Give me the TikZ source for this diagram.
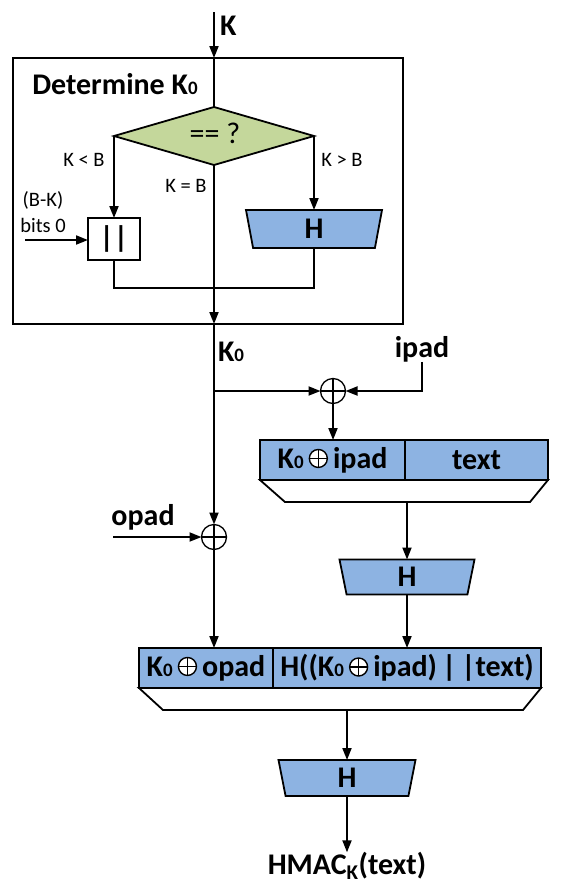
\documentclass[tikz,border=0pt]{standalone}
\usepackage{fontspec}
\setmainfont{Carlito}
\usetikzlibrary{arrows.meta,shapes.geometric}
\definecolor{hblue}{HTML}{8DB3E2}
\definecolor{dgreen}{HTML}{C4D79B}
\newcommand\zsub{{\fontsize{19}{19}\selectfont 0}}
\newcommand\xo{\,\begin{pgfpicture}\pgfsetlinewidth{1.4pt}\pgfsetstrokecolor{black}\pgfsetfillcolor{white}\pgfpathcircle{\pgfpoint{0pt}{9pt}}{9pt}\pgfusepath{fill,stroke}\pgfpathmoveto{\pgfpoint{-9pt}{9pt}}\pgfpathlineto{\pgfpoint{9pt}{9pt}}\pgfpathmoveto{\pgfpoint{0pt}{0pt}}\pgfpathlineto{\pgfpoint{0pt}{18pt}}\pgfusepath{stroke}\end{pgfpicture}\,}
\begin{document}
\begin{tikzpicture}[x=1pt,y=-1pt,
  every node/.style={inner sep=0pt, outer sep=0pt},
  ln/.style={line width=1.8pt},
  arr/.style={line width=1.8pt,-{Triangle[length=12pt,width=9pt]}},
  big/.style={font=\fontsize{30}{32}\selectfont\bfseries},
  sml/.style={font=\fontsize{20.5}{26}\selectfont},
  cell/.style={draw, line width=1.8pt, fill=hblue, minimum height=40pt, big},
  hbox/.style={trapezium, shape border rotate=180, trapezium angle=70, trapezium stretches body, draw, line width=1.8pt, fill=hblue, big},
  xor/.style={circle, draw, line width=1.3pt, minimum size=25pt, path picture={\draw[line width=1.3pt] (path picture bounding box.north) -- (path picture bounding box.south) (path picture bounding box.west) -- (path picture bounding box.east);}}
]
\useasboundingbox (0,0) rectangle (561,894);

% top input
\coordinate (kin) at (214,12);
\node[big, anchor=west] (K) at (220,26) {K};
\node[draw, line width=1.8pt, minimum width=390pt, minimum height=266pt] (outer) at (208,191) {};
\coordinate (ktop) at (214,58);
\draw[arr] (kin) -- (ktop);
\node[big] (det) at (115,84) {Determine K\zsub};

\node[diamond, draw, line width=1.8pt, fill=dgreen, minimum width=200pt, minimum height=58pt] (dia) at (214,136) {};
\node[font=\fontsize{30}{30}\selectfont] (eq) at (215,133) {== ?};
\draw[ln] (ktop) -- (dia.north);

\node[draw, line width=1.8pt, fill=white, minimum width=52pt, minimum height=42pt, big] (cat) at (114,239) {||};
\node[hbox, minimum width=136pt, minimum height=38pt] (h1) at (314,229) {H};

\draw[arr] (dia.west) -- (cat.north);
\draw[arr] (dia.east) -- (h1);
\node[sml] (klb) at (84,160) {K < B};
\node[sml] (kgb) at (342,160) {K > B};
\node[sml] (keb) at (186,186) {K = B};
\node[sml, align=center] (bk) at (43,212) {(B-K)\\bits 0};
\coordinate (bkin) at (25,240);
\draw[arr] (bkin) -- (cat.west |- bkin);

\coordinate (jn) at (214,288);
\draw[ln] (cat) |- (jn) -| (h1);
\coordinate (kout) at (214,324);
\draw[arr] (dia.south) -- (kout);

% K0 and ipad
\node[big, anchor=west] (k0) at (218,352) {K\zsub};
\coordinate (j2) at (214,391);
\node[xor] (xo1) at (333,391) {};
\node[big] (ipad) at (422,349) {ipad};
\draw[arr] (j2) -- (xo1);
\draw[arr] (ipad) |- (xo1);

% box 1
\node[cell, minimum width=145pt] (b1l) at (332.5,460) {K\zsub\xo ipad};
\node[cell, minimum width=143pt] (b1r) at (476.5,460) {text};
\coordinate (t1a) at (285,502);
\coordinate (t1b) at (530,502);
\coordinate (t1m) at (407,502);
\draw[ln, fill=white] (b1l.south west) -- (t1a) -- (t1b) -- (b1r.south east) -- cycle;
\draw[arr] (xo1) -- (xo1 |- b1l.north);

\node[hbox, minimum width=135pt, minimum height=35pt] (h2) at (407,577) {H};
\draw[arr] (t1m) -- (h2);

% opad
\node[xor] (xo2) at (214,537) {};
\node[big] (opad) at (143,517) {opad};
\coordinate (opin) at (113,537);
\draw[arr] (kout) -- (xo2);
\draw[arr] (opin) -- (xo2);

% box 2
\node[cell, minimum width=134pt] (b2l) at (206,668) {K\zsub\xo opad};
\node[cell, minimum width=268pt] (b2r) at (407,668) {H((K\zsub\xo ipad)\,|\,|text)};
\coordinate (t2a) at (163,710);
\coordinate (t2b) at (523,710);
\coordinate (t2m) at (347,710);
\draw[ln, fill=white] (b2l.south west) -- (t2a) -- (t2b) -- (b2r.south east) -- cycle;
\draw[arr] (xo2) -- (xo2 |- b2l.north);
\draw[arr] (h2) -- (h2 |- b2r.north);

\node[hbox, minimum width=137pt, minimum height=36pt] (h3) at (347,778) {H};
\draw[arr] (t2m) -- (h3);
\node[big] (hmac) at (347,866) {HMAC\textsubscript{K}(text)};
\draw[arr] (h3) -- (hmac);
\end{tikzpicture}
\end{document}
